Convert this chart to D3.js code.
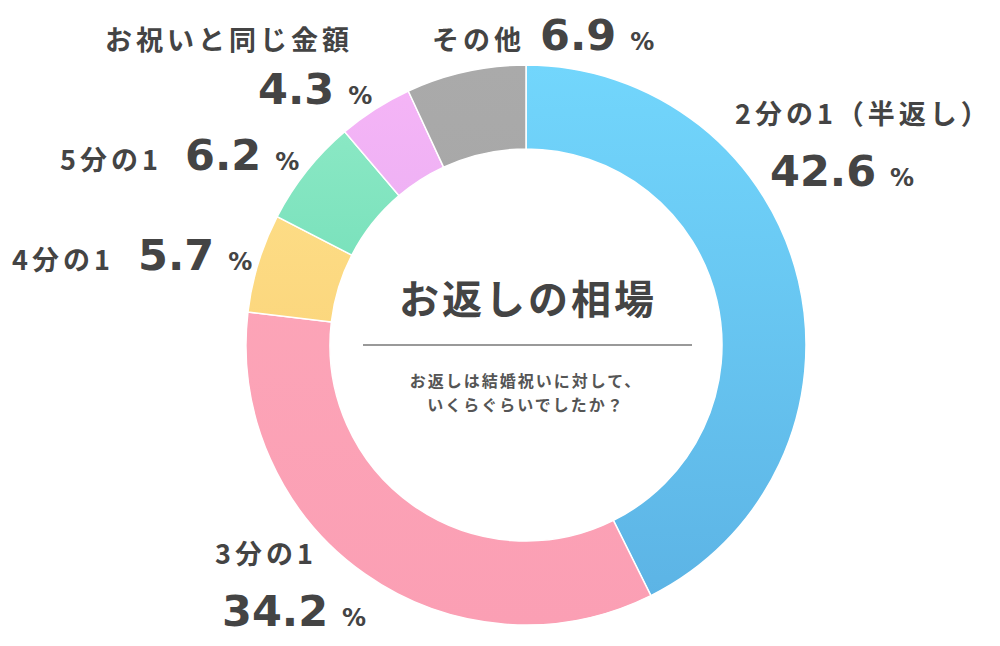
<!DOCTYPE html>
<html><head><meta charset="utf-8">
<script src="https://cdn.jsdelivr.net/npm/d3@7"></script>
<style>body{margin:0;background:#fff}</style>
</head><body>
<svg id="chart" width="1000" height="646"></svg>
<script>
// data
var categories=["2分の1（半返し）","3分の1","4分の1","5分の1","お祝いと同じ金額","その他"];
var values=[42.6,34.2,5.7,6.2,4.3,6.9];
var colorsTop=["#72d6fc","#fda8ba","#fee38f","#92ebc8","#f6b5f7","#aaaaaa"];
var colorsBot=["#5bb2e4","#fb9fb4","#f9c96a","#4ed0a6","#d8a6ec","#a0a0a0"];
// label anchors for name and value
var labelPos=[
  {nx:735,ny:124,vx:770,vy:186},
  {nx:215,ny:564,vx:222,vy:626},
  {nx:12,ny:270,vx:138,vy:270},
  {nx:60,ny:170,vx:185,vy:170},
  {nx:105,ny:50,vx:258,vy:104},
  {nx:432,ny:50,vx:540,vy:50}
];

const cx=526,cy=345,outerR=280,innerR=196;
var svg=d3.select("#chart");
var defs=svg.append("defs");
values.forEach(function(v,i){
    var g=defs.append("linearGradient").attr("id","g"+i)
        .attr("gradientUnits","userSpaceOnUse")
        .attr("x1",0).attr("y1",-outerR).attr("x2",0).attr("y2",outerR);
    g.append("stop").attr("offset","0%").attr("stop-color",colorsTop[i]);
    g.append("stop").attr("offset","100%").attr("stop-color",colorsBot[i]);
});

var pie=d3.pie().sort(null).value(d=>d);
var arc=d3.arc().innerRadius(innerR).outerRadius(outerR);
svg.append("g").attr("transform",`translate(${cx},${cy})`)
    .selectAll("path").data(pie(values)).enter().append("path")
    .attr("d",arc)
    .attr("fill",(d,i)=>"url(#g"+i+")")
    .attr("stroke","#fff").attr("stroke-width",1.5);

var font="'Noto Sans CJK JP','Noto Sans',sans-serif";
var numFont="'DejaVu Sans','Noto Sans',sans-serif";

svg.append("text").attr("x",cx+2).attr("y",314).attr("text-anchor","middle")
    .style("font-family",font).style("font-weight","bold").style("font-size","40px")
    .style("letter-spacing","3px")
    .attr("fill","#444").text("お返しの相場");
svg.append("line").attr("x1",363).attr("x2",692).attr("y1",345).attr("y2",345)
    .attr("stroke","#777").attr("stroke-width",1.5);
[["お返しは結婚祝いに対して、",387],["いくらぐらいでしたか？",411]].forEach(function(s){
    svg.append("text").attr("x",cx).attr("y",s[1]).attr("text-anchor","middle")
        .style("font-family",font).style("font-weight","bold").style("font-size","16px")
        .style("letter-spacing","2px")
        .attr("fill","#555").text(s[0]);
});

categories.forEach(function(c,i){
    var p=labelPos[i];
    svg.append("text").attr("x",p.nx).attr("y",p.ny)
        .style("font-family",font).style("font-weight","bold").style("font-size","27px")
        .style("letter-spacing","4px")
        .attr("fill","#444").text(c);
    var t=svg.append("text").attr("x",p.vx).attr("y",p.vy)
        .style("font-family",numFont).style("font-weight","bold").attr("fill","#444");
    t.append("tspan").style("font-size","43px").text(values[i].toFixed(1));
    t.append("tspan").attr("dx",14).style("font-size","24px").text("%");
});
</script>
</body></html>
